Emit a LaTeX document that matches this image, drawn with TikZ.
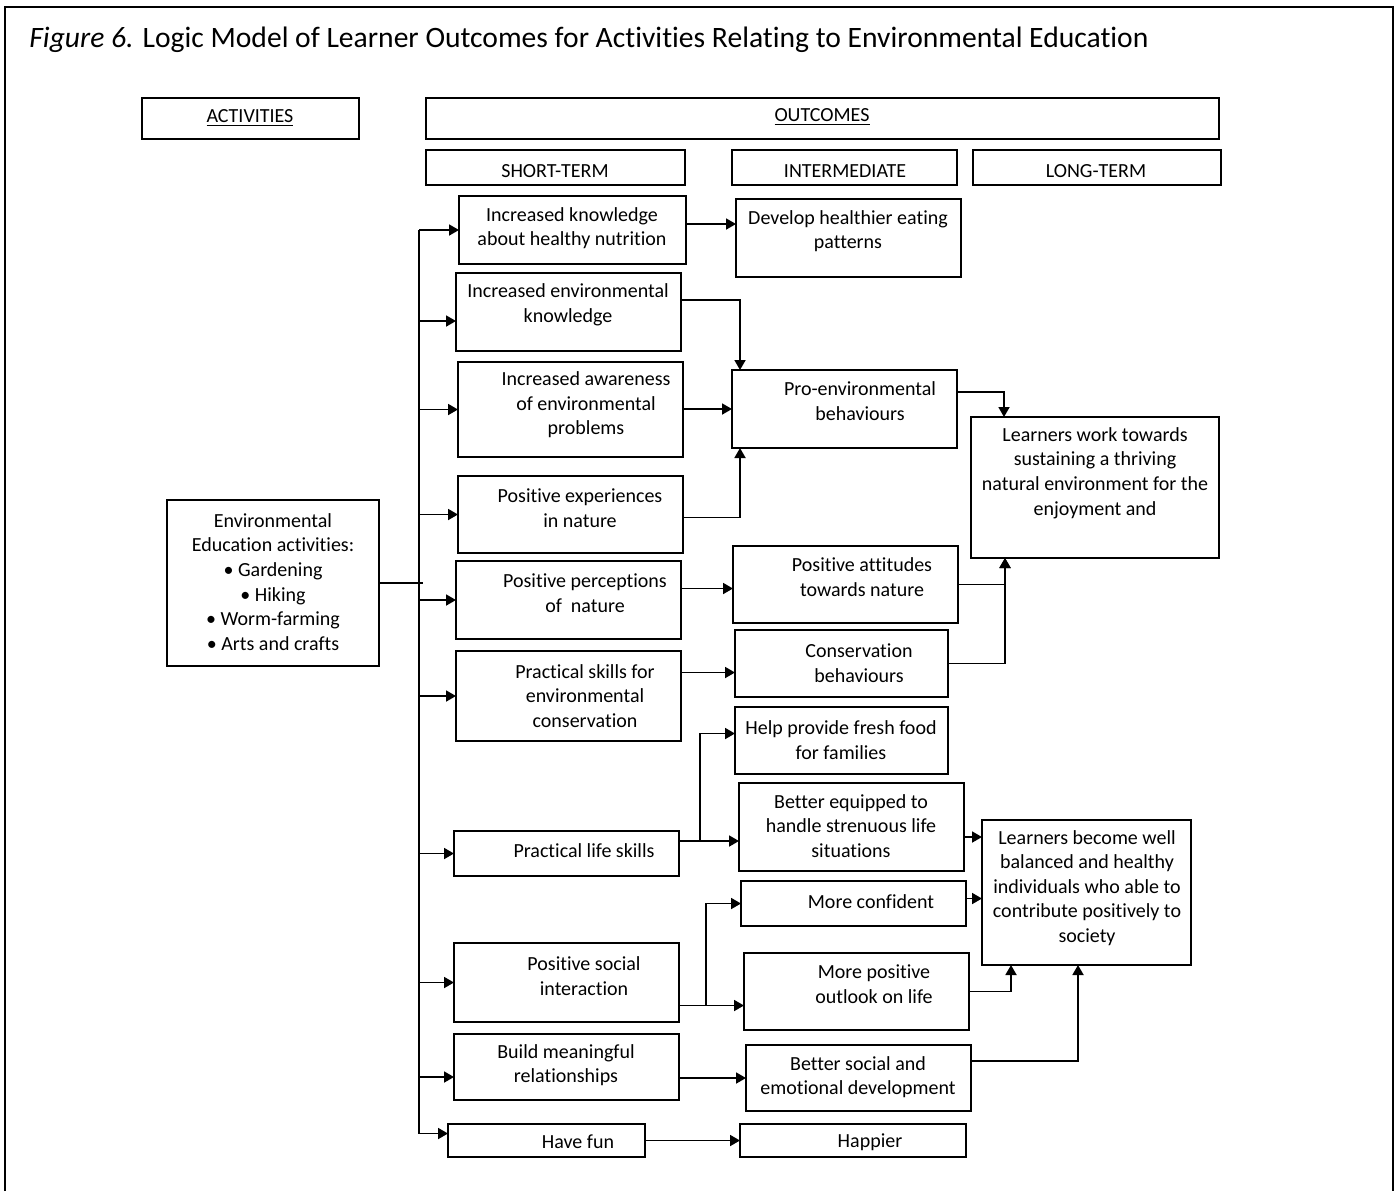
\documentclass[tikz,border=0pt]{standalone}
\usepackage{fontspec}
\setmainfont{Carlito}[Ligatures=NoCommon]
\usetikzlibrary{arrows.meta,calc}

\tikzset{
  box/.style={draw, line width=1.35pt, inner sep=0pt, outer sep=0pt},
  txt/.style={align=center, font=\fontsize{10}{12.3}\selectfont, inner sep=0pt},
  link/.style={line width=0.9pt},
  arr/.style={link, -{Triangle[length=5pt,width=5.5pt]}},
}

% \mkbox[opts]{name}{x1}{y1}{x2}{y2}: empty framed box between two corners
\newcommand\mkbox[6][]{%
  \pgfmathsetmacro\mkW{(#5-#3)*0.5}%
  \pgfmathsetmacro\mkH{(#6-#4)*0.5}%
  \node[box,minimum width=\mkW pt,minimum height=\mkH pt,#1] (#2) at ({(#3+#5)/2},{(#4+#6)/2}) {};}

\begin{document}
\begin{tikzpicture}[x=0.5pt,y=-0.5pt]
\useasboundingbox (0,0) rectangle (1397,1191);

% page frame, open at the bottom
\draw[line width=0.8pt] (5,1191) -- (5,7) -- (1393,7) -- (1393,1191);

\node[anchor=west, inner sep=0pt, font=\fontsize{14.8}{17}\selectfont] (title) at (29,40)
  {\textit{Figure 6.} Logic Model of Learner Outcomes for Activities Relating to Environmental Education};

% column headers
\mkbox{hact}{142}{98}{359}{139}
\mkbox{hout}{426}{98}{1219}{139}
\mkbox{hst}{426}{150}{685}{185}
\mkbox{hint}{732}{150}{957}{185}
\mkbox{hlt}{973}{150}{1221}{185}
\node[txt] (hactt) at (250,118) {\underline{ACTIVITIES}};
\node[txt] (houtt) at (822,117) {\underline{OUTCOMES}};
\node[txt] (hstt) at (555,171) {SHORT-TERM};
\node[txt] (hintt) at (845,171) {INTERMEDIATE};
\node[txt] (hltt) at (1096,171) {LONG-TERM};

% activities
\mkbox{act}{167}{500}{379}{666}
\node[txt] (actt) at (273,582) {Environmental\\Education activities:\\• Gardening\\• Hiking\\• Worm-farming\\• Arts and crafts};

% short-term outcomes
\mkbox{s1}{459}{196}{686}{264}
\mkbox{s2}{456}{273}{681}{351}
\mkbox{s3}{458}{362}{683}{457}
\mkbox{s4}{458}{476}{683}{553}
\mkbox{s5}{456}{561}{681}{639}
\mkbox{s6}{456}{651}{681}{741}
\mkbox{s7}{454}{831}{679}{876}
\mkbox{s8}{454}{943}{679}{1022}
\mkbox{s9}{454}{1034}{679}{1100}
\mkbox{s10}{448}{1124}{645}{1157}
\node[txt] (s1t) at (572,228) {Increased knowledge\\about healthy nutrition};
\node[txt] (s2t) at (568,305) {Increased environmental\\knowledge};
\node[txt] (s3t) at (586,405) {Increased awareness\\of environmental\\problems};
\node[txt] (s4t) at (580,508) {Positive experiences\\in nature};
\node[txt] (s5t) at (585,593) {Positive perceptions\\of \ nature};
\node[txt] (s6t) at (585,696) {Practical skills for\\environmental\\conservation};
\node[txt] (s7t) at (584,851) {Practical life skills};
\node[txt] (s8t) at (584,976) {Positive social\\interaction};
\node[txt] (s9t) at (566,1065) {Build meaningful\\relationships};
\node[txt] (s10t) at (578,1142) {Have fun};

% intermediate outcomes
\mkbox{i1}{736}{199}{961}{277}
\mkbox{i2}{732}{370}{957}{448}
\mkbox{i3}{733}{546}{958}{623}
\mkbox{i4}{735}{630}{948}{697}
\mkbox{i5}{735}{707}{948}{774}
\mkbox{i6}{739}{783}{964}{871}
\mkbox{i7}{741}{881}{966}{926}
\mkbox{i8}{744}{953}{969}{1030}
\mkbox{i9}{746}{1045}{971}{1111}
\mkbox{i10}{740}{1124}{966}{1157}
\node[txt] (i1t) at (848,231) {Develop healthier eating\\patterns};
\node[txt] (i2t) at (860,401) {Pro-environmental\\behaviours};
\node[txt] (i3t) at (862,577) {Positive attitudes\\towards nature};
\node[txt] (i4t) at (859,663) {Conservation\\behaviours};
\node[txt] (i5t) at (841,740) {Help provide fresh food\\for families};
\node[txt] (i6t) at (851,826) {Better equipped to\\handle strenuous life\\situations};
\node[txt] (i7t) at (871,902) {More confident};
\node[txt] (i8t) at (874,984) {More positive\\outlook on life};
\node[txt] (i9t) at (858,1077) {Better social and\\emotional development};
\node[txt] (i10t) at (870,1142) {Happier};

% long-term outcomes
\mkbox{l1}{971}{417}{1219}{558}
\mkbox{l2}{982}{820}{1191}{965}
\node[txt] (l1t) at (1095,473) {Learners work towards\\sustaining a thriving\\natural environment for the\\enjoyment and};
\node[txt] (l2t) at (1087,888) {Learners become well\\balanced and healthy\\individuals who able to\\contribute positively to\\society};

% activities feed every short-term outcome
\coordinate (trk) at (419,583);
\path ([yshift=-4.5pt]s2.west) coordinate (s2in)
      ([yshift=-5pt]s9.west) coordinate (s9in)
      ([yshift=3.5pt]s10.west) coordinate (s10in);
\draw[link] (act.east) -- ([xshift=2pt]trk);
\draw[link] (trk |- s1.west) -- (trk |- s10in);
\foreach \t in {s1.west,s2in,s3.west,s4.west,s5.west,s6.west,s7.west,s8.west,s9in,s10in}
  \draw[arr] (trk |- \t) -- (\t);

% short-term to intermediate
\path ([yshift=3pt]s1.east) coordinate (p1)
      ([yshift=6pt]s2.east) coordinate (p2)
      ([yshift=-1.5pt]s4.east) coordinate (p4)
      ([yshift=-2pt]i3.west) coordinate (q3)
      ([yshift=-4.5pt]i4.west) coordinate (q4)
      ([yshift=3.5pt]i5.west) coordinate (q5)
      ([yshift=-7pt]i6.west) coordinate (q6)
      ([yshift=-7pt]i8.west) coordinate (q8)
      ([xshift=4pt]i2.north west) coordinate (i2top)
      ([xshift=4pt]i2.south west) coordinate (i2bot)
      (700,0) coordinate (split7)
      (706,0) coordinate (split8);
\draw[arr] (p1) -- (p1 -| i1.west);
\draw[arr] (p2) -| (i2top);
\draw[arr] (s3.east |- i2.west) -- (i2.west);
\draw[arr] (p4) -| (i2bot);
\draw[arr] (q3 -| s5.east) -- (q3);
\draw[arr] (q4 -| s6.east) -- (q4);
\draw[arr] (q6 -| s7.east) -- (q6);
\draw[arr] (split7 |- q6) |- (q5);
\draw[arr] (q8 -| s8.east) -- (q8);
\draw[arr] (split8 |- q8) |- (i7.west);
\draw[arr] (i9.west -| s9.east) -- (i9.west);
\draw[arr] (s10.east) -- (i10.west);

% intermediate to long-term
\path ([yshift=8.5pt]i2.east) coordinate (r2)
      ([xshift=16.5pt]l1.north west) coordinate (l1top)
      ([xshift=17pt]l1.south west) coordinate (l1bot)
      ([yshift=-5pt]i6.east) coordinate (r6)
      ([yshift=2.5pt]i7.east) coordinate (r7)
      ([yshift=8.5pt]i9.east) coordinate (r9)
      ([xshift=14.5pt]l2.south west) coordinate (l2a)
      ([xshift=48pt]l2.south west) coordinate (l2b);
\draw[arr] (r2) -| (l1top);
\draw[arr] (i3.east) -| (l1bot);
\draw[arr] (i4.east) -| (l1bot);
\draw[arr] (r6) -- (r6 -| l2.west);
\draw[arr] (r7) -- (r7 -| l2.west);
\draw[arr] (i8.east) -| (l2a);
\draw[arr] (r9) -| (l2b);
\end{tikzpicture}
\end{document}
